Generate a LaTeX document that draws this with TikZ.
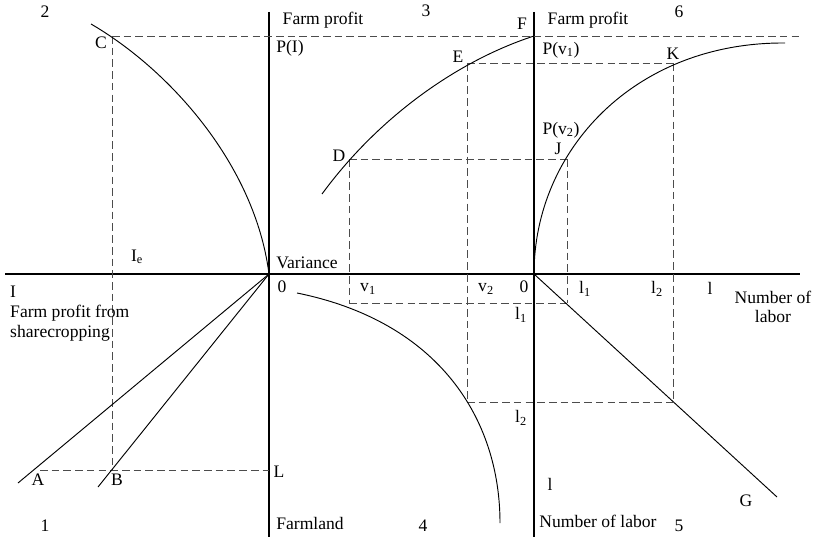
\documentclass[tikz,border=0pt]{standalone}
\usepackage{fontspec}
\setmainfont{Liberation Serif}
\usepackage{tikz}

\tikzset{
  axis/.style={line width=1.6pt},
  curve/.style={line width=0.8pt},
  guide/.style={line width=0.8pt, black!70, dash pattern=on 6.5pt off 3.5pt},
  lbl/.style={inner sep=0pt, font=\fontsize{15}{18}\selectfont},
}

\begin{document}
\begin{tikzpicture}[x=0.03cm,y=-0.03cm]
\useasboundingbox (0,0) rectangle (816,537);
% points (pixel grid, y down)
\foreach \n/\x/\y in {O1/269/274, O2/534/274, xl/5/274, xr/800/274,
  yat/269/12, yab/269/537, ybt/534/12, ybb/534/537,
  C/112/36, B/112/470, A/40/470, L/269/470, Aend/18/483, Bend/98/487,
  topr/800/36, D/349/159, E/467/63, F/534/36, J/567/159, K/673/63,
  Dv/349/303, Ev/467/402, Jv/567/303, Kv/673/402, Gend/777/497,
  cs/91/24, ds/322/194, qs/297/293, qe/500/523, ke/785/43}
  \coordinate (\n) at (\x,\y);
% axes
\draw[axis] (xl) -- (xr);
\draw[axis] (yat) -- (yab);
\draw[axis] (ybt) -- (ybb);
% dashed guides
\foreach \a/\b in {C/topr, C/B, A/L, D/J, D/Dv, Dv/Jv, J/Jv, E/K, E/Ev, Ev/Kv, K/Kv}
  \draw[guide] (\a) -- (\b);
% curves and rays
\draw[curve] (cs) .. controls (170,70) and (255,165) .. (O1);
\draw[curve] (ds) .. controls (380,115) and (460,60) .. (F);
\draw[curve] (qs) .. controls (440,322) and (500,420) .. (qe);
\draw[curve] (O2) .. controls (534,150) and (635,42) .. (ke);
\draw[curve] (O1) -- (Aend);
\draw[curve] (O1) -- (Bend);
\draw[curve] (O2) -- (Gend);
% labels
\foreach \n/\x/\y/\t in {q2/45/12/2, q3/426/11/3, q6/679/12/6, q1/45/526/1, q4/423/526/4, q5/679/526/5,
  lC/101/43/C, lD/339/156/D, lE/458/57/E, lF/522/24/F, lJ/558/149/J, lK/673/54/K,
  lA/38/480/A, lB/117/480/B, lL/279/472/L, lG/746/501/G,
  z1/282/287/0, z2/524/287/0, lI/13/292/I, ll/550/484/l, lr/710/288/l}
  \node[lbl] (\n) at (\x,\y) {\t};
\node[lbl] (Ie) at (137,257) {I\textsubscript{e}};
\node[lbl] (fp1) at (323,20) {Farm profit};
\node[lbl] (fp2) at (588,20) {Farm profit};
\node[lbl] (PI) at (290,48) {P(I)};
\node[lbl] (Pv1) at (561,50) {P(v\textsubscript{1})};
\node[lbl] (Pv2) at (561,130) {P(v\textsubscript{2})};
\node[lbl] (var) at (307,263) {Variance};
\node[lbl, anchor=west] (fps1) at (10,313) {Farm profit from};
\node[lbl, anchor=west] (fps2) at (10,333) {sharecropping};
\node[lbl] (v1) at (368,289) {v\textsubscript{1}};
\node[lbl] (v2) at (486,289) {v\textsubscript{2}};
\node[lbl] (l1a) at (521,315) {l\textsubscript{1}};
\node[lbl] (l2a) at (521,418) {l\textsubscript{2}};
\node[lbl] (l1b) at (585,289) {l\textsubscript{1}};
\node[lbl] (l2b) at (657,289) {l\textsubscript{2}};
\node[lbl] (nl1) at (773,297) {Number of};
\node[lbl] (nl2) at (773,316) {labor};
\node[lbl] (nl3) at (598,521) {Number of labor};
\node[lbl] (farm) at (310,523) {Farmland};
\end{tikzpicture}
\end{document}
